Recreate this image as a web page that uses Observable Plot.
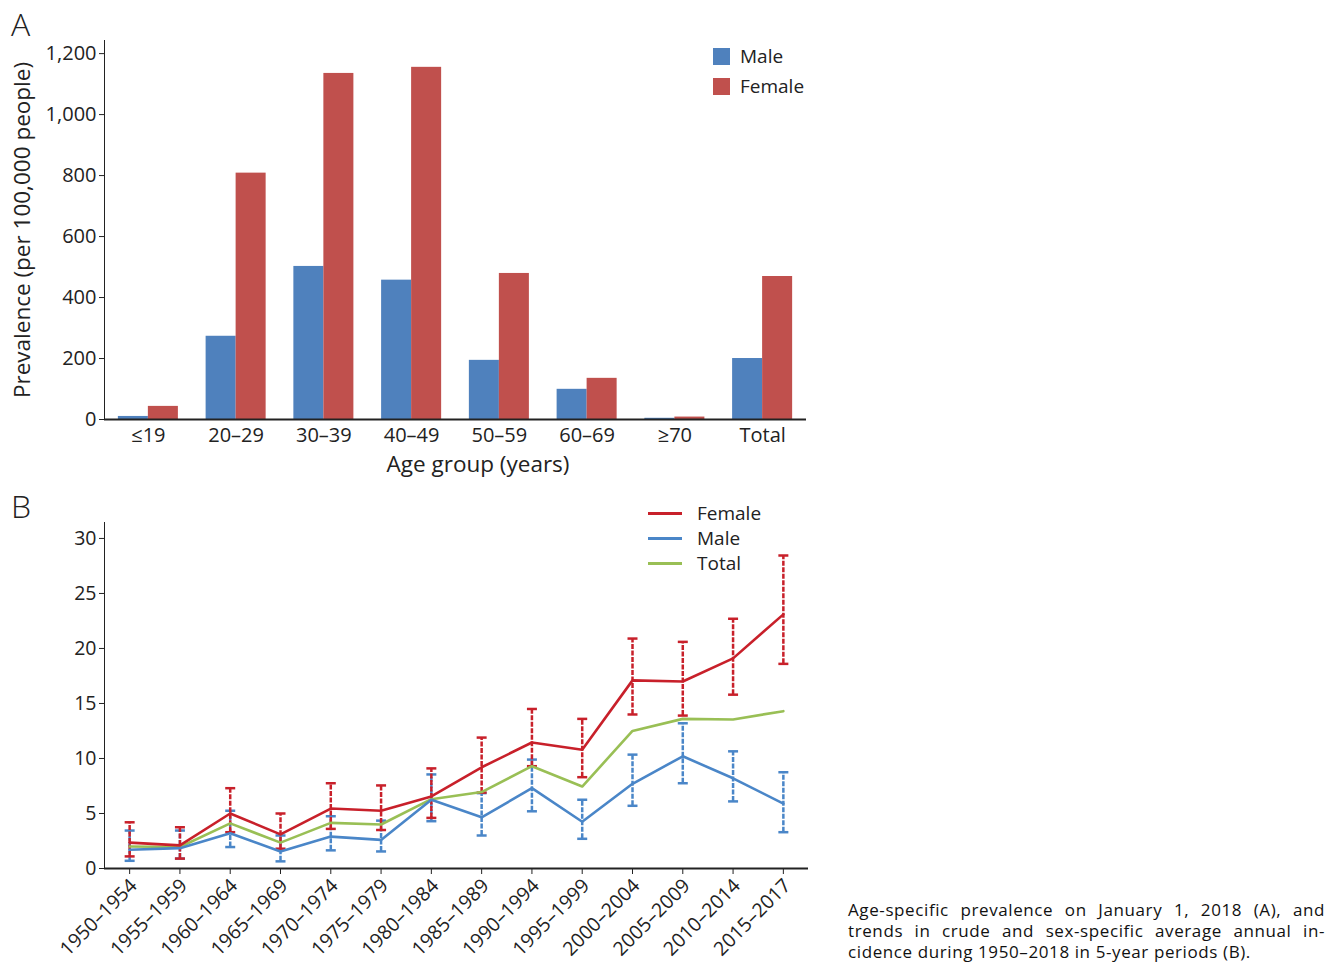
<!DOCTYPE html>
<html>
<head>
<meta charset="utf-8">
<script src="https://cdn.jsdelivr.net/npm/d3@7"></script>
<script src="https://cdn.jsdelivr.net/npm/@observablehq/plot@0.6"></script>
<style>
  body { margin: 0; background: #fff; font-family: "Open Sans", sans-serif; color: #222; }
  #wrap { position: relative; width: 1327px; height: 962px; overflow: hidden; background: #fff; }
  #plotA, #plotB { position: absolute; left: 0; }
  #plotA { top: 0; }
  #plotB { top: 490px; }
  .panel { position: absolute; font-size: 32px; font-weight: 300; line-height: 1; }
  .leg { position: absolute; font-size: 19px; line-height: 1; display: flex; align-items: center; }
  .sw { display: inline-block; width: 17px; height: 17px; margin-right: 10px; }
  .ln { display: inline-block; width: 34px; height: 3px; margin-right: 15px; }
  .axlab { position: absolute; font-size: 22.5px; line-height: 1; white-space: nowrap; color: #222; }
  #caption { position: absolute; left: 848px; top: 899px; width: 477px; font-size: 17px; letter-spacing: 0.6px; line-height: 21px; color: #111; }
  #caption div { text-align: justify; text-align-last: justify; white-space: nowrap; height: 21px; }
  #caption div.last { text-align: left; text-align-last: left; }
</style>
</head>
<body>
<div id="wrap">
  <div id="plotA"></div>
  <div id="plotB"></div>
  <div class="panel" style="left:11px; top:8px;">A</div>
  <div class="panel" style="left:11px; top:490px;">B</div>
  <div class="axlab" id="ylabA" style="left:22px; top:230px; transform: translate(-50%,-50%) rotate(-90deg);">Prevalence (per 100,000 people)</div>
  <div class="axlab" id="xlabA" style="left:478px; top:464px; transform: translate(-50%,-50%);">Age group (years)</div>
  <div id="legA"></div>
  <div id="legB"></div>
  <div id="caption">
    <div>Age-specific prevalence on January 1, 2018 (A), and</div>
    <div>trends in crude and sex-specific average annual in-</div>
    <div class="last">cidence during 1950–2018 in 5-year periods (B).</div>
  </div>
</div>
<script>
// ---- Panel A data ----
const ageGroups = ["≤19", "20–29", "30–39", "40–49", "50–59", "60–69", "≥70", "Total"];
const malePrevalence = [10, 273, 502, 457, 194, 99, 4, 200];
const femalePrevalence = [43, 808, 1135, 1155, 479, 135, 8, 469];
const prevTicks = [0, 200, 400, 600, 800, 1000, 1200];

// ---- Panel B data ----
const periods = ["1950–1954", "1955–1959", "1960–1964", "1965–1969", "1970–1974", "1975–1979", "1980–1984",
  "1985–1989", "1990–1994", "1995–1999", "2000–2004", "2005–2009", "2010–2014", "2015–2017"];
const femaleInc = [2.35, 2.1, 5.0, 3.1, 5.45, 5.25, 6.55, 9.2, 11.45, 10.8, 17.1, 17.0, 19.1, 23.1];
const femaleLow = [1.1, 0.9, 3.3, 1.8, 3.6, 3.5, 4.6, 6.9, 9.3, 8.3, 14.0, 13.9, 15.8, 18.6];
const femaleHigh = [4.2, 3.75, 7.3, 5.0, 7.75, 7.55, 9.1, 11.9, 14.5, 13.6, 20.9, 20.6, 22.7, 28.45];
const maleInc = [1.7, 1.85, 3.2, 1.55, 2.9, 2.6, 6.25, 4.65, 7.3, 4.25, 7.7, 10.2, 8.2, 5.9];
const maleLow = [0.7, 0.9, 1.95, 0.65, 1.65, 1.55, 4.3, 3.0, 5.2, 2.7, 5.7, 7.75, 6.1, 3.3];
const maleHigh = [3.45, 3.45, 5.25, 3.0, 4.75, 4.35, 8.55, 6.85, 9.9, 6.25, 10.35, 13.2, 10.65, 8.75];
const totalInc = [2.0, 1.95, 4.1, 2.35, 4.15, 4.0, 6.3, 6.95, 9.3, 7.45, 12.5, 13.6, 13.55, 14.3];
const incTicks = [0, 5, 10, 15, 20, 25, 30];

const colA = { Male: "#4f81bd", Female: "#c0504d" };
const colB = { Female: "#c8202a", Male: "#4a86c8", Total: "#99bf55" };

const rowsA = ageGroups.map((g, i) => ({ age: g, male: malePrevalence[i], female: femalePrevalence[i] }));
const rowsB = periods.map((p, i) => ({
  period: p, fem: femaleInc[i], femLo: femaleLow[i], femHi: femaleHigh[i],
  mal: maleInc[i], malLo: maleLow[i], malHi: maleHigh[i], tot: totalInc[i]
}));

const baseStyle = { fontFamily: "Open Sans, sans-serif", fontSize: "20px", color: "#222", background: "white", overflow: "visible" };

const plotA = Plot.plot({
  width: 820, height: 480,
  marginLeft: 104, marginTop: 40, marginBottom: 61, marginRight: 14,
  style: baseStyle,
  x: { domain: ageGroups, paddingInner: 0.316, paddingOuter: 0.158, round: false, tickSize: 0, tickPadding: 8, label: null },
  y: { domain: [0, 1243], ticks: prevTicks, tickFormat: d3.format(","), tickSize: 5, tickPadding: 3, line: true, label: null },
  marks: [
    Plot.barY(rowsA, { x: "age", y: "male", fill: colA.Male, insetRight: 30 }),
    Plot.barY(rowsA, { x: "age", y: "female", fill: colA.Female, insetLeft: 30 }),
    Plot.ruleY([0], { stroke: "#222", strokeWidth: 2 })
  ]
});
document.getElementById("plotA").appendChild(plotA);

// horizontal cap symbol for error bars
const capSymbol = { draw(context, size) { const r = 5; context.moveTo(-r, 0); context.lineTo(r, 0); } };
const errDash = "5,1.5";
const plotB = Plot.plot({
  width: 820, height: 472,
  marginLeft: 104, marginTop: 32, marginBottom: 94, marginRight: 12,
  style: { ...baseStyle, fontSize: "19.5px" },
  x: { type: "point", domain: periods, padding: 0.5, round: false, tickRotate: -45, tickSize: 6, tickPadding: 5, label: null },
  y: { domain: [0, 31.45], ticks: incTicks, tickSize: 5, tickPadding: 3, line: true, label: null },
  marks: [
    Plot.ruleX(rowsB, { x: "period", y1: "malLo", y2: "malHi", stroke: colB.Male, strokeWidth: 2.5, strokeDasharray: errDash }),
    Plot.dot(rowsB, { x: "period", y: "malLo", symbol: capSymbol, stroke: colB.Male, strokeWidth: 2.5, fill: "none" }),
    Plot.dot(rowsB, { x: "period", y: "malHi", symbol: capSymbol, stroke: colB.Male, strokeWidth: 2.5, fill: "none" }),
    Plot.ruleX(rowsB, { x: "period", y1: "femLo", y2: "femHi", stroke: colB.Female, strokeWidth: 2.5, strokeDasharray: errDash }),
    Plot.dot(rowsB, { x: "period", y: "femLo", symbol: capSymbol, stroke: colB.Female, strokeWidth: 2.5, fill: "none" }),
    Plot.dot(rowsB, { x: "period", y: "femHi", symbol: capSymbol, stroke: colB.Female, strokeWidth: 2.5, fill: "none" }),
    Plot.line(rowsB, { x: "period", y: "tot", stroke: colB.Total, strokeWidth: 2.6 }),
    Plot.line(rowsB, { x: "period", y: "mal", stroke: colB.Male, strokeWidth: 2.6 }),
    Plot.line(rowsB, { x: "period", y: "fem", stroke: colB.Female, strokeWidth: 2.6 }),
    Plot.ruleY([0], { stroke: "#222", strokeWidth: 2 })
  ]
});
// nudge the rotated period labels a little down and right, as in the reference
plotB.querySelectorAll('g[aria-label="x-axis tick label"]').forEach(g => {
  const t = g.getAttribute("transform") || "";
  g.setAttribute("transform", t + " translate(4,3)");
});
document.getElementById("plotB").appendChild(plotB);

// ---- Legends (HTML) ----
const legA = document.getElementById("legA");
[["Male", 47], ["Female", 77]].forEach(([k, top]) => {
  const d = document.createElement("div");
  d.className = "leg"; d.style.left = "713px"; d.style.top = top + "px";
  d.innerHTML = `<span class="sw" style="background:${colA[k]}"></span>${k}`;
  legA.appendChild(d);
});
const legB = document.getElementById("legB");
[["Female", 504], ["Male", 529], ["Total", 554]].forEach(([k, top]) => {
  const d = document.createElement("div");
  d.className = "leg"; d.style.left = "648px"; d.style.top = top + "px";
  d.innerHTML = `<span class="ln" style="background:${colB[k]}"></span>${k}`;
  legB.appendChild(d);
});
</script>
</body>
</html>
